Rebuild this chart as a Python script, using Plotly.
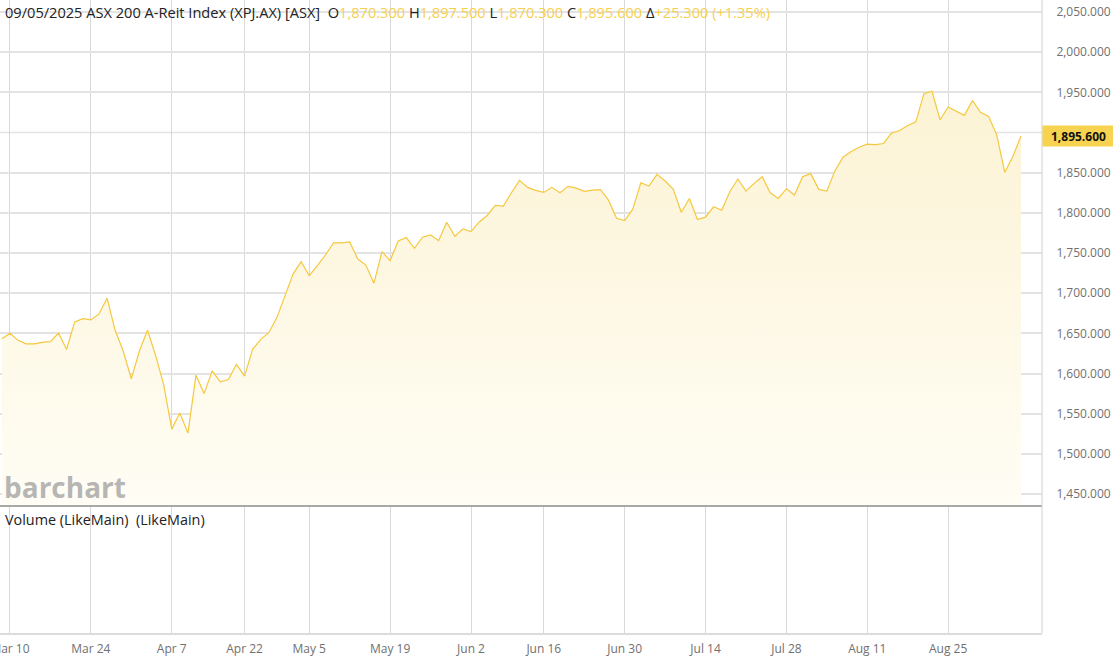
import pandas as pd
import plotly.graph_objects as go

# ---- data ----
holidays = ["2025-04-18", "2025-04-21", "2025-04-25", "2025-06-09"]
dates = [d.strftime("%Y-%m-%d") for d in pd.bdate_range("2025-03-07", "2025-09-05")
         if d.strftime("%Y-%m-%d") not in holidays]

close = [
    1643.3, 1650.0, 1641.3, 1637.0, 1637.0, 1638.8, 1639.6, 1650.4, 1630.0, 1664.2,
    1668.3, 1666.7, 1674.2, 1693.8, 1653.8, 1628.0, 1593.3, 1628.0, 1653.8, 1622.5,
    1586.3, 1530.8, 1550.8, 1525.8, 1597.9, 1575.0, 1603.3, 1589.6, 1592.5, 1611.3,
    1596.7, 1630.0, 1642.5, 1650.8, 1669.6, 1696.7, 1723.8, 1739.2, 1721.7, 1734.2,
    1747.5, 1762.5, 1762.5, 1763.8, 1742.5, 1735.0, 1712.5, 1751.7, 1740.4, 1765.0,
    1769.2, 1755.8, 1769.6, 1772.5, 1765.4, 1788.3, 1770.8, 1780.0, 1776.7, 1788.3,
    1796.7, 1809.2, 1808.3, 1825.0, 1840.4, 1831.7, 1827.9, 1825.4, 1831.7, 1825.0,
    1832.9, 1830.8, 1826.7, 1828.3, 1828.8, 1815.8, 1793.3, 1790.4, 1804.6, 1837.5,
    1833.3, 1847.9, 1839.6, 1829.6, 1800.8, 1817.9, 1791.7, 1794.6, 1807.5, 1803.3,
    1826.3, 1842.1, 1827.1, 1836.7, 1845.0, 1825.0, 1817.9, 1830.0, 1822.1, 1845.0,
    1848.8, 1829.2, 1827.1, 1852.5, 1869.2, 1876.3, 1881.7, 1885.4, 1885.0, 1886.3,
    1899.2, 1902.5, 1908.8, 1913.3, 1948.3, 1951.3, 1915.8, 1931.7, 1926.7, 1921.3,
    1939.6, 1925.0, 1920.0, 1897.1, 1850.4, 1870.0, 1895.6,
]

tick_dates = ["2025-03-10", "2025-03-24", "2025-04-07", "2025-04-22", "2025-05-05",
              "2025-05-19", "2025-06-02", "2025-06-16", "2025-06-30", "2025-07-14",
              "2025-07-28", "2025-08-11", "2025-08-25"]
tick_labels = ["Mar 10", "Mar 24", "Apr 7", "Apr 22", "May 5", "May 19", "Jun 2",
               "Jun 16", "Jun 30", "Jul 14", "Jul 28", "Aug 11", "Aug 25"]

y_ticks = [1450, 1500, 1550, 1600, 1650, 1700, 1750, 1800, 1850, 1900, 1950, 2000, 2050]
y_ticks_shown = [v for v in y_ticks if v != 1900]

header_title = "09/05/2025 ASX 200 A-Reit Index (XPJ.AX) [ASX]"
ohlc = [("O", "1,870.300"), ("H", "1,897.500"), ("L", "1,870.300"), ("C", "1,895.600"),
        ("Δ", "+25.300 (+1.35%)")]
last_price = 1895.6

# ---- styles ----
FONT = "Open Sans"
GOLD = "#f5c83e"
VAL = "#f7cf4f"
H = 661
PLOT_H = 633
SPLIT = (PLOT_H - 506) / PLOT_H

fig = go.Figure()

fig.add_trace(go.Scatter(
    x=dates, y=close, xaxis="x2", yaxis="y2", mode="lines",
    line=dict(color=GOLD, width=1.2),
    fill="tozeroy",
    fillgradient=dict(type="vertical",
                      colorscale=[[0, "rgb(255,253,245)"], [1, "rgb(252,243,212)"]],
                      start=1435, stop=1952),
    hoverinfo="skip", showlegend=False,
))
# invisible trace to register categories on the lower (volume) pane
fig.add_trace(go.Scatter(
    x=dates, y=[0] * len(dates), xaxis="x", yaxis="y", mode="lines",
    line=dict(width=0), opacity=0, hoverinfo="skip", showlegend=False,
))

xcommon = dict(
    type="category", categoryorder="array", categoryarray=dates,
    range=[-0.235, 128.6], tickmode="array", tickvals=tick_dates,
    showgrid=True, gridcolor="#d9d9d9", gridwidth=1, zeroline=False,
    fixedrange=True, automargin=False,
)

fig.update_layout(
    width=1113, height=H,
    margin=dict(l=0, r=71, t=0, b=H - PLOT_H, autoexpand=False),
    paper_bgcolor="white", plot_bgcolor="white",
    font=dict(family=FONT, size=12, color="#666666"),
    xaxis=dict(**xcommon, ticktext=tick_labels, showticklabels=True,
               anchor="y", ticks="outside", ticklen=4, tickcolor="rgba(0,0,0,0)",
               tickfont=dict(size=12, color="#707070"),
               ticklabeloverflow="allow", showline=True, linecolor="#dcdcdc", linewidth=2),
    xaxis2=dict(**xcommon, ticktext=tick_labels, showticklabels=False, anchor="y2",
                matches="x"),
    yaxis=dict(domain=[0, SPLIT], range=[0, 1], showgrid=False, showticklabels=False,
               zeroline=False, fixedrange=True, automargin=False),
    yaxis2=dict(domain=[SPLIT, 1], range=[1435.1, 2064.9], side="right",
                tickmode="array", tickvals=y_ticks_shown, tickformat=",.3f",
                showgrid=True, gridcolor="#e3e3e3", gridwidth=1.5, zeroline=False,
                ticks="outside", ticklen=11, tickcolor="rgba(0,0,0,0)",
                tickfont=dict(size=12, color="#707070"), fixedrange=True,
                automargin=False, ticklabeloverflow="allow"),
)

# grid line at 1900 (label hidden because of price box)
fig.add_shape(type="line", xref="paper", x0=0, x1=1, yref="y2", y0=1900, y1=1900,
              line=dict(color="#e3e3e3", width=1.5), layer="below")

# separator between panes
fig.add_shape(type="line", xref="paper", x0=0, x1=1, yref="paper", y0=SPLIT, y1=SPLIT,
              line=dict(color="#a8a8a8", width=2))
# right axis border
fig.add_shape(type="line", xref="paper", x0=1, x1=1, yref="paper", y0=0, y1=1,
              line=dict(color="#d0d0d0", width=1))

# header
parts = [f"<span style='color:#222222'>{header_title}</span>&nbsp;"]
for k, v in ohlc:
    parts.append(f"<span style='color:#222222'>&nbsp;{k}</span><span style='color:{VAL}'>{v}</span>")
fig.add_annotation(text="".join(parts), xref="paper", yref="paper", x=0, y=1,
                   xanchor="left", yanchor="top", xshift=3, yshift=0, showarrow=False,
                   font=dict(family=FONT, size=14.6, color="#222222"))

# watermark
fig.add_annotation(text="<b>barchart</b>", xref="paper", yref="paper", x=0,
                   y=(PLOT_H - 487) / PLOT_H, xanchor="left", yanchor="middle", xshift=2,
                   showarrow=False, font=dict(family=FONT, size=28, color="rgba(150,150,150,0.7)"))

# volume label
fig.add_annotation(text="Volume (LikeMain)&nbsp;&nbsp;(LikeMain)", xref="paper", yref="paper",
                   x=0, y=SPLIT, xanchor="left", yanchor="top", xshift=3, yshift=-2,
                   showarrow=False, font=dict(family=FONT, size=14.4, color="#222222"))

# last price box
fig.add_annotation(text="<b>1,895.600</b>", xref="paper", yref="y2", x=1, y=last_price,
                   xanchor="left", yanchor="middle", showarrow=False, width=71, height=20,
                   borderpad=0, bgcolor="#f7d34f", align="center",
                   font=dict(family=FONT, size=12, color="#111111"))

fig.write_html("out.html", config={"displayModeBar": False},
               post_script="document.body.style.margin='0';document.body.style.padding='0';")
